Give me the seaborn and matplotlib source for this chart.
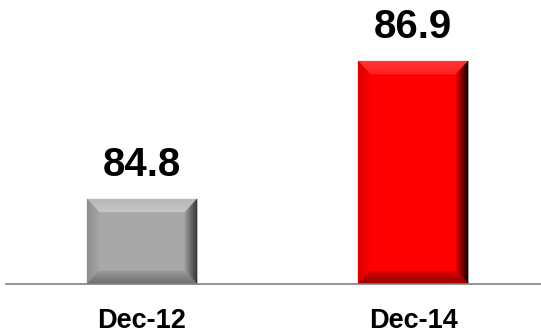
import matplotlib
matplotlib.use("Agg")
import matplotlib.pyplot as plt
import seaborn as sns
import pandas as pd
import numpy as np
from matplotlib.patches import Polygon
from matplotlib.colors import to_rgb

categories = ["Dec-12", "Dec-14"]
values = [84.8, 86.9]
value_labels = ["84.8", "86.9"]
bar_colors = ["#A8A8A8", "#FF0000"]
# bevel gradients (outer colour, inner colour): top, left, right, bottom
bevel_grads = [
    [("#B8B8B8", "#C8C8C8"), ("#8C8C8C", "#A4A4A4"), ("#2E2E2E", "#9A9A9A"), ("#6A6A6A", "#989898")],
    [("#FF3A3A", "#FF2020"), ("#D80000", "#FA0000"), ("#000000", "#E80000"), ("#8A0000", "#D80000")],
]

sns.set_theme(style="white")
plt.rcParams["font.family"] = ["Liberation Sans", "DejaVu Sans"]

df = pd.DataFrame({"cat": categories, "val": values})

fig = plt.figure(figsize=(5.41, 3.33), dpi=100)
ax = fig.add_axes([6 / 541, 49 / 333, 535 / 541, 284 / 333])

sns.barplot(data=df, x="cat", y="val", hue="cat", palette=bar_colors,
            width=0.406, legend=False, ax=ax, saturation=1)

ax.set_xlim(-0.502, 1.472)
ax.set_ylim(83.506, 87.83)

for s in ["top", "right", "left"]:
    ax.spines[s].set_visible(False)
ax.spines["bottom"].set_color("#808080")
ax.spines["bottom"].set_linewidth(1.2)
ax.spines["bottom"].set_zorder(5)
ax.set_yticks([])
ax.set_xlabel("")
ax.set_ylabel("")
ax.tick_params(axis="x", length=0, pad=17, labelsize=19.5)
for t in ax.get_xticklabels():
    t.set_fontweight("bold")
    t.set_color("black")

def mix(c1, c2, f):
    a = np.array(to_rgb(c1)); b = np.array(to_rgb(c2))
    return tuple(a + (b - a) * f)

bx = 12 / 271.0
by = 13 / 65.7
nb = 8
for i, p in enumerate(list(ax.patches)):
    x0 = p.get_x(); w = p.get_width(); x1 = x0 + w
    y0 = ax.get_ylim()[0]; y1 = p.get_y() + p.get_height()
    p.set_edgecolor("none")
    grads = bevel_grads[i]
    for k in range(nb):
        f0 = k / nb; f1 = (k + 1) / nb
        # each band is a frame segment between insets f0 and f1
        ox0, ox1 = x0 + bx * f0, x1 - bx * f0
        oy0, oy1 = y0 + by * f0, y1 - by * f0
        ix0, ix1 = x0 + bx * f1, x1 - bx * f1
        iy0, iy1 = y0 + by * f1, y1 - by * f1
        fc = (k + 0.5) / nb
        segs = [
            ([(ox0, oy1), (ox1, oy1), (ix1, iy1), (ix0, iy1)], 0),
            ([(ox0, oy1), (ix0, iy1), (ix0, iy0), (ox0, oy0)], 1),
            ([(ox1, oy1), (ox1, oy0), (ix1, iy0), (ix1, iy1)], 2),
            ([(ox0, oy0), (ox1, oy0), (ix1, iy0), (ix0, iy0)], 3),
        ]
        for pts, j in segs:
            c = mix(grads[j][0], grads[j][1], fc)
            ax.add_patch(Polygon(pts, closed=True, facecolor=c, edgecolor=c,
                                 linewidth=0.3, zorder=3))
    ax.annotate(value_labels[i], xy=(x0 + w / 2, y1), xytext=(0, 16.5),
                textcoords="offset points", ha="center", va="baseline",
                fontsize=29, fontweight="bold", color="black")

fig.savefig("out.png", dpi=100)
